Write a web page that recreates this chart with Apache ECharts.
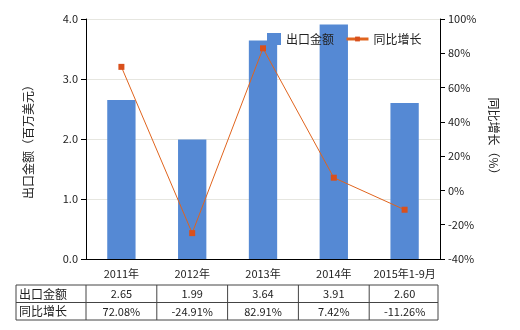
<!DOCTYPE html>
<html><head><meta charset="utf-8">
<script src="https://cdn.jsdelivr.net/npm/echarts@6/dist/echarts.min.js"></script>
<style>html,body{margin:0;padding:0;background:#fff}#c{width:520px;height:330px}</style>
</head><body><div id="c"></div>
<script>
var categories = ['2011年','2012年','2013年','2014年','2015年1-9月'];
var exportValues = [2.65, 1.99, 3.64, 3.91, 2.60];
var growthValues = [72.08, -24.91, 82.91, 7.42, -11.26];
var exportLabels = ['2.65','1.99','3.64','3.91','2.60'];
var growthLabels = ['72.08%','-24.91%','82.91%','7.42%','-11.26%'];
var seriesNames = ['出口金额','同比增长'];

var FONT = '"Noto Sans CJK SC", "Noto Sans", sans-serif';
var W = 520, H = 330;
var gridL = 86, gridR = 80, gridT = 19, gridB = 71;
var plotW = W - gridL - gridR;
var band = plotW / categories.length;
var tblL = 16, tblTop = 285, rowH = 17.5;

var graphics = [];
var lineStyle = {stroke:'#444', lineWidth:1};
var tblR = gridL + plotW - 2;
for (var r = 0; r <= 2; r++) {
  graphics.push({type:'line', shape:{x1:tblL, y1:tblTop + r*rowH, x2:tblR, y2:tblTop + r*rowH}, style:lineStyle, silent:true});
}
var cols = [tblL, gridL];
for (var i = 1; i <= categories.length; i++) cols.push(i === categories.length ? tblR : gridL + band*i);
cols.forEach(function(x){
  graphics.push({type:'line', shape:{x1:x, y1:tblTop, x2:x, y2:tblTop + 2*rowH}, style:lineStyle, silent:true});
});
var rows = [[seriesNames[0]].concat(exportLabels), [seriesNames[1]].concat(growthLabels)];
rows.forEach(function(row, ri){
  var y = tblTop + ri*rowH + rowH/2 + 0.5;
  row.forEach(function(t, ci){
    if (ci === 0) {
      graphics.push({type:'text', x: tblL + 3, y: y, style:{text:t, fill:'#222', font:'12px ' + FONT, textVerticalAlign:'middle', textAlign:'left'}, silent:true});
    } else {
      graphics.push({type:'text', x: gridL + band*(ci-0.5), y: y, style:{text:t, fill:'#222', font:'11px ' + FONT, textVerticalAlign:'middle', textAlign:'center'}, silent:true});
    }
  });
});

var chart = echarts.init(document.getElementById('c'), null, {renderer:'canvas'});
chart.setOption({
  animation:false,
  textStyle:{fontFamily:FONT},
  grid:{left:gridL, right:gridR, top:gridT, bottom:gridB},
  legend:[
    {data:[{name:seriesNames[0], icon:'rect'}], left:262, top:28, itemWidth:14, itemHeight:12, itemGap:0, textStyle:{fontSize:12, color:'#222', fontFamily:FONT}},
    {data:[seriesNames[1]], left:340, top:28, itemWidth:22, itemHeight:6, lineStyle:{width:3}, textStyle:{fontSize:12, color:'#222', fontFamily:FONT}}
  ],
  xAxis:{
    type:'category', data:categories,
    axisLine:{lineStyle:{color:'#000'}},
    axisTick:{alignWithLabel:true, length:5, lineStyle:{color:'#000'}},
    axisLabel:{color:'#222', fontSize:11, margin:9, interval:0, fontFamily:FONT}
  },
  yAxis:[
    {type:'value', min:0, max:4, interval:1, position:'left',
     name:'出口金额（百万美元）', nameLocation:'middle', nameGap:52,
     nameTextStyle:{fontSize:12, color:'#222', fontFamily:FONT},
     axisLine:{show:true, lineStyle:{color:'#000'}},
     axisTick:{show:true, length:5, lineStyle:{color:'#000'}},
     axisLabel:{color:'#222', fontSize:11, formatter:function(v){return v.toFixed(1);}},
     splitLine:{show:true, lineStyle:{color:'#e6e6e0'}}},
    {type:'value', min:-40, max:100, interval:20, position:'right',
     name:'同比增长（%）', nameLocation:'middle', nameGap:46, nameRotate:-90,
     nameTextStyle:{fontSize:12, color:'#222', fontFamily:FONT},
     axisLine:{show:true, lineStyle:{color:'#000'}},
     axisTick:{show:true, length:5, lineStyle:{color:'#000'}},
     axisLabel:{color:'#222', fontSize:11, formatter:'{value}%'},
     splitLine:{show:false}}
  ],
  series:[
    {name:seriesNames[0], type:'bar', data:exportValues, barWidth:'40%', itemStyle:{color:'#5589d4'}},
    {name:seriesNames[1], type:'line', yAxisIndex:1, data:growthValues, symbol:'rect', symbolSize:6,
     itemStyle:{color:'#d9501c'}, lineStyle:{color:'#e0641e', width:1}}
  ],
  graphic:graphics
});
</script></body></html>
